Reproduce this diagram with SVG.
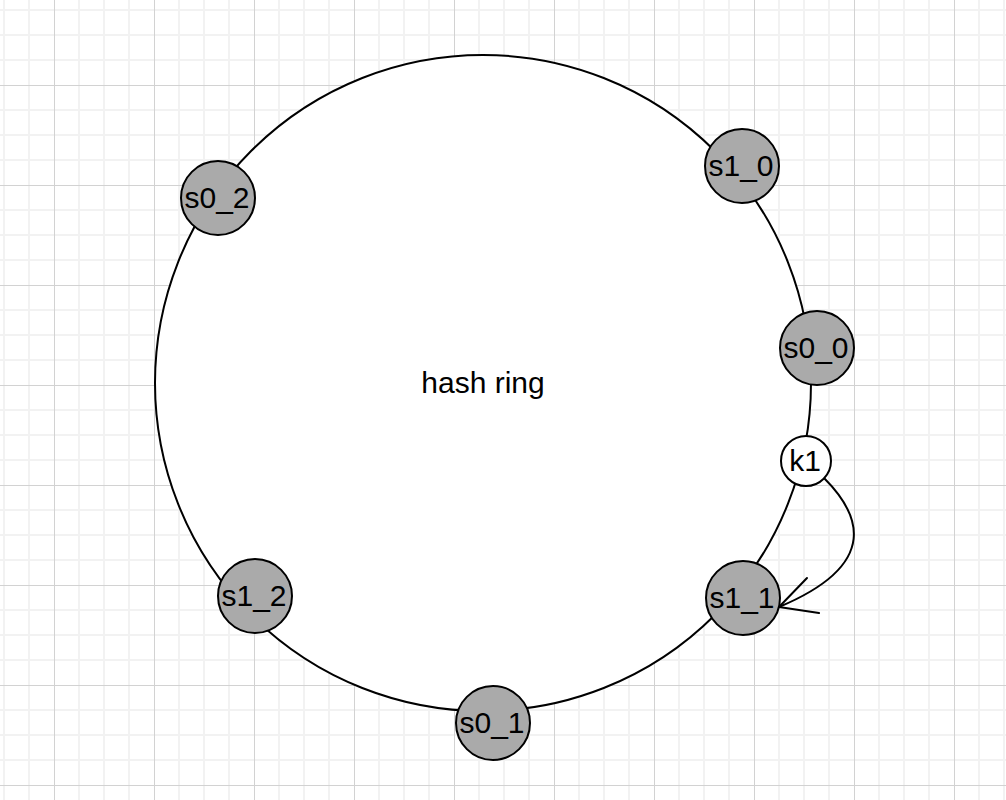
<svg xmlns="http://www.w3.org/2000/svg" width="1006" height="800" viewBox="0 0 1006 800">
<style>
.ring{fill:#ffffff;stroke:#000000;stroke-width:2}
.vnode{fill:#aaaaaa;stroke:#000000;stroke-width:2}
.key{fill:#ffffff;stroke:#000000;stroke-width:2}
.lbl{font-family:"Liberation Sans",Arial,Helvetica,sans-serif;font-size:30px;fill:#000000;text-anchor:middle}
.edge{fill:none;stroke:#000000;stroke-width:2;stroke-linecap:round;stroke-linejoin:round}
</style>
<defs>
<pattern id="grid" x="54" y="85" width="100" height="100" patternUnits="userSpaceOnUse">
<path d="M25 0V100M50 0V100M75 0V100M0 25H100M0 50H100M0 75H100" stroke="#f2f2f2" stroke-width="2" fill="none"/>
<path d="M0.5 0V100M0 0.5H100" stroke="#d2d2d2" stroke-width="1" fill="none"/>
</pattern>
</defs>
<rect width="1006" height="800" fill="#ffffff"/>
<rect width="1006" height="800" fill="url(#grid)"/>
<g id="hash-ring">
<circle class="ring" cx="483" cy="383" r="328"/>
<text class="lbl" x="483" y="393">hash ring</text>
</g>
<g id="connectors">
<path class="edge" d="M824 478 C858 512 884 563 779 607"/>
<path class="edge" d="M807 578 L779 607 L819 613"/>
</g>
<g id="s0_2"><circle class="vnode" cx="218" cy="198" r="37"/><text class="lbl" x="217" y="208">s0_2</text></g>
<g id="s1_0"><circle class="vnode" cx="742" cy="166" r="37"/><text class="lbl" x="741" y="176">s1_0</text></g>
<g id="s0_0"><circle class="vnode" cx="817" cy="348" r="37"/><text class="lbl" x="816" y="358">s0_0</text></g>
<g id="k1"><circle class="key" cx="806" cy="461" r="25"/><text class="lbl" x="805" y="471">k1</text></g>
<g id="s1_1"><circle class="vnode" cx="743" cy="598" r="37"/><text class="lbl" x="742" y="608">s1_1</text></g>
<g id="s0_1"><circle class="vnode" cx="493" cy="723" r="37"/><text class="lbl" x="492" y="733">s0_1</text></g>
<g id="s1_2"><circle class="vnode" cx="255" cy="596" r="37"/><text class="lbl" x="254" y="606">s1_2</text></g>
</svg>
